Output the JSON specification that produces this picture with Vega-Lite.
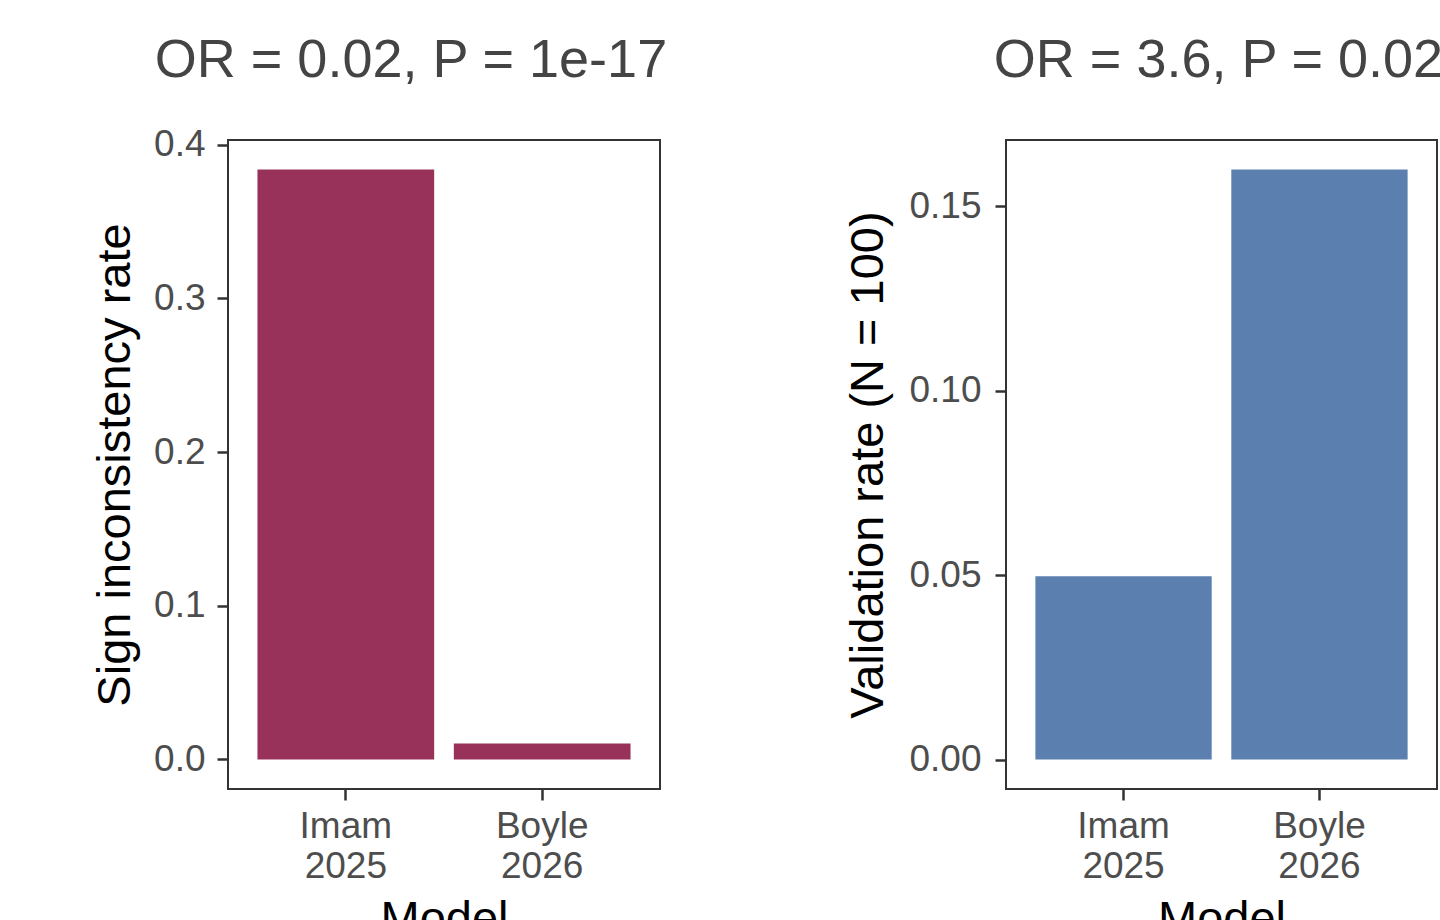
{
  "$schema": "https://vega.github.io/schema/vega-lite/v6.json",
  "padding": {"left": 90, "top": 32, "right": 0, "bottom": 0},
  "background": "white",
  "bounds": "flush",
  "spacing": 346,
  "config": {
    "font": "Liberation Sans",
    "view": {"stroke": "#333333", "strokeWidth": 2},
    "axis": {
      "grid": false,
      "domain": false,
      "tickColor": "#333333",
      "tickWidth": 2.5,
      "tickSize": 11,
      "labelFont": "Liberation Sans",
      "labelFontSize": 37,
      "labelColor": "#4D4D4D",
      "labelPadding": 8,
      "titleFont": "Liberation Sans",
      "titleFontSize": 47,
      "titleFontWeight": "normal",
      "titleColor": "#000000"
    },
    "title": {"font": "Liberation Sans", "fontSize": 54, "fontWeight": "normal", "color": "#444444", "anchor": "middle"}
  },
  "hconcat": [
    {
      "width": 432,
      "height": 649,
      "title": {"text": "OR = 0.02, P = 1e-17", "dx": -33, "offset": 38},
      "data": {"values": [
        {"model": "Imam 2025", "rate": 0.3838},
        {"model": "Boyle 2026", "rate": 0.0104}
      ]},
      "mark": {"type": "bar", "color": "#98325A"},
      "encoding": {
        "x": {"field": "model", "type": "nominal", "sort": null,
          "scale": {"paddingInner": 0.1, "paddingOuter": 0.15},
          "axis": {"title": "Model", "labelAngle": 0, "labelExpr": "split(datum.label, ' ')", "labelLineHeight": 40, "titlePadding": 12}},
        "y": {"field": "rate", "type": "quantitative",
          "scale": {"domain": [-0.0192, 0.403], "nice": false, "zero": false},
          "axis": {"title": "Sign inconsistency rate", "values": [0, 0.1, 0.2, 0.3, 0.4], "format": ".1f", "labelPadding": 12, "titlePadding": 14}},
        "y2": {"datum": 0}
      }
    },
    {
      "width": 431,
      "height": 649,
      "title": {"text": "OR = 3.6, P = 0.02", "dx": -3, "offset": 52},
      "data": {"values": [
        {"model": "Imam 2025", "rate": 0.0497},
        {"model": "Boyle 2026", "rate": 0.16}
      ]},
      "mark": {"type": "bar", "color": "#5B80AF"},
      "encoding": {
        "x": {"field": "model", "type": "nominal", "sort": null,
          "scale": {"paddingInner": 0.1, "paddingOuter": 0.15},
          "axis": {"title": "Model", "labelAngle": 0, "labelExpr": "split(datum.label, ' ')", "labelLineHeight": 40, "titlePadding": 12}},
        "y": {"field": "rate", "type": "quantitative",
          "scale": {"domain": [-0.008, 0.168], "nice": false, "zero": false},
          "axis": {"title": "Validation rate (N = 100)", "values": [0, 0.05, 0.1, 0.15], "format": ".2f", "labelPadding": 14, "titlePadding": 16}},
        "y2": {"datum": 0}
      }
    }
  ]
}
